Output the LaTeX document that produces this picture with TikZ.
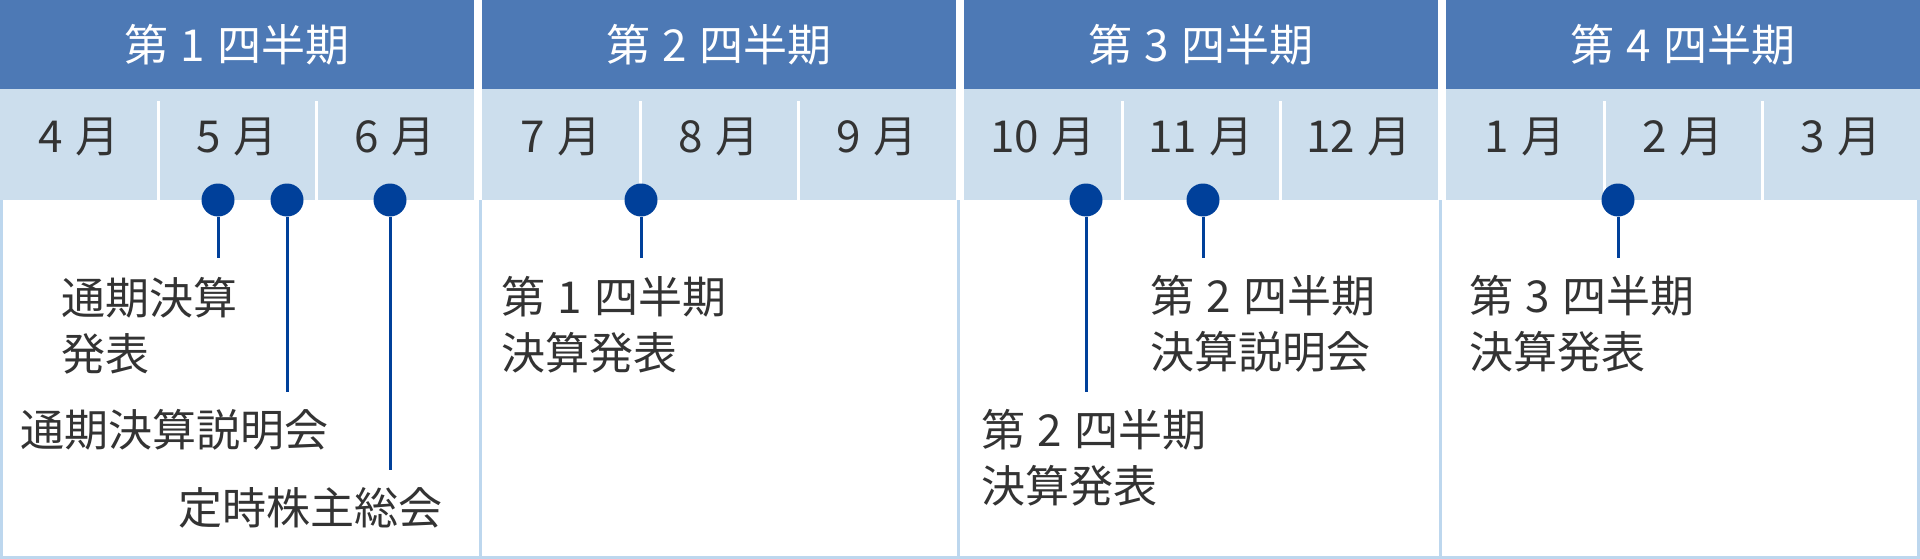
\documentclass[tikz,border=0pt]{standalone}
\usepackage{fontspec}
\setmainfont[WordSpace=1.25]{Noto Sans CJK JP}
\usetikzlibrary{positioning}
\definecolor{qdark}{HTML}{4D79B5}
\definecolor{qlight}{HTML}{CCDEED}
\definecolor{dotblue}{HTML}{00409A}
\definecolor{frameblue}{HTML}{BDD7EE}
\definecolor{ink}{HTML}{333333}

\begin{document}
\begin{tikzpicture}[
    x=1pt, y=-1pt,
    font=\fontsize{44}{56}\selectfont,
    quarter/.style={fill=qdark, text=white, minimum width=474pt, minimum height=89pt, inner sep=0pt, anchor=north west},
    monthband/.style={fill=qlight, minimum width=474pt, minimum height=111pt, inner sep=0pt, anchor=north west},
    month/.style={text=ink, inner sep=0pt},
    divider/.style={draw=white, line width=3pt},
    frame/.style={draw=frameblue, line width=3pt},
    event/.style={circle, fill=dotblue, minimum size=33pt, inner sep=0pt},
    note/.style={text=ink, align=left, inner sep=0pt, anchor=north west},
    every edge/.style={draw=dotblue, line width=3pt},
]
  \useasboundingbox (0,0) rectangle (1920,559);
  \foreach \q/\a/\b/\c [count=\i from 0] in {1/4/5/6, 2/7/8/9, 3/10/11/12, 4/1/2/3} {
    \pgfmathsetmacro\xs{\i*482}
    \node[quarter] (q\q) at (\xs,0) {第 \q\ 四半期};
    \node[monthband] (b\q) at (\xs,89) {};
    \draw[divider] (\xs+158,101) -- (\xs+158,200);
    \draw[divider] (\xs+316,101) -- (\xs+316,200);
    \node[month] (m\a) at (\xs+79,137) {\a\ 月};
    \node[month] (m\b) at (\xs+237,137) {\b\ 月};
    \node[month] (m\c) at (\xs+395,137) {\c\ 月};
  }
  \draw[frame] (1.5,200) -- (1.5,557.5) -- (1918.5,557.5) -- (1918.5,200);
  \foreach \x in {480,958,1440}
    \draw[frame] (\x,200) -- (\x,557.5);

  \node[event] (d1) at (218,200) {};
  \node[event] (d2) at (287,200) {};
  \node[event] (d3) at (390,200) {};
  \node[event] (d4) at (641,200) {};
  \node[event] (d5) at (1086,200) {};
  \node[event] (d6) at (1203,200) {};
  \node[event] (d7) at (1618,200) {};
  \coordinate (e1) at (218,258);
  \coordinate (e2) at (287,392);
  \coordinate (e3) at (390,470);
  \coordinate (e4) at (641,258);
  \coordinate (e5) at (1086,392);
  \coordinate (e6) at (1203,258);
  \coordinate (e7) at (1618,258);
  \path (d1) edge (e1) (d2) edge (e2) (d3) edge (e3) (d4) edge (e4)
        (d5) edge (e5) (d6) edge (e6) (d7) edge (e7);

  \node[note] (n1) at (61,277) {通期決算\\発表};
  \node[note] (n2) at (20,409) {通期決算説明会};
  \node[note] (n3) at (178,487) {定時株主総会};
  \node[note] (n4) at (501,276) {第 1 四半期\\決算発表};
  \node[note] (n5) at (981,409) {第 2 四半期\\決算発表};
  \node[note] (n6) at (1150,275) {第 2 四半期\\決算説明会};
  \node[note] (n7) at (1469,275) {第 3 四半期\\決算発表};
\end{tikzpicture}
\end{document}
